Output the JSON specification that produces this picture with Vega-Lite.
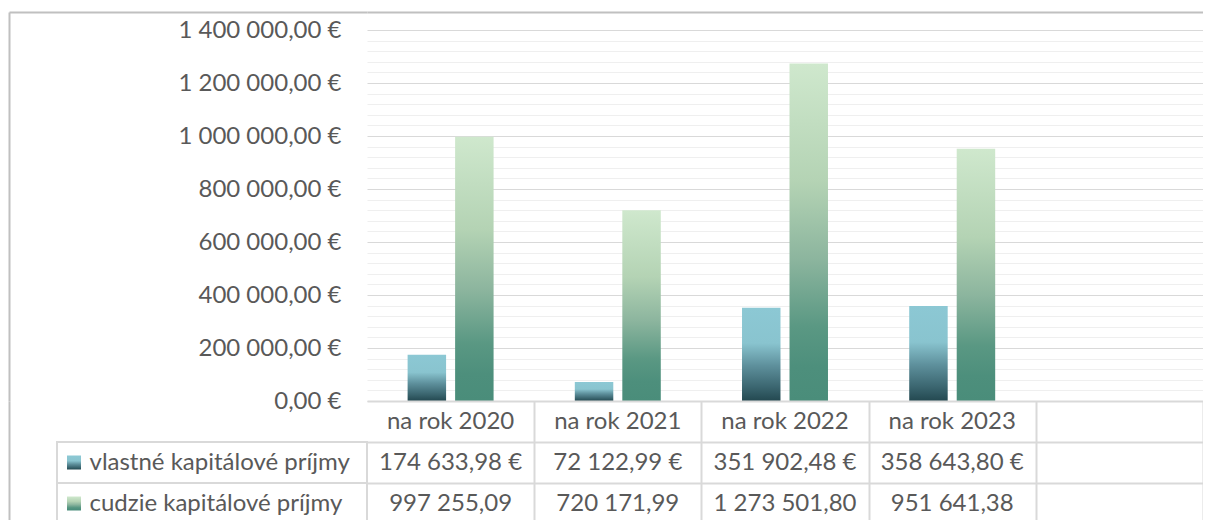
{
  "$schema": "https://vega.github.io/schema/vega-lite/v6.json",
  "padding": {"left": 9, "top": 12, "right": 0, "bottom": 0},
  "background": "white",
  "config": {
    "view": {"stroke": null},
    "font": "Lato",
    "locale": {"number": {"decimal": ",", "thousands": " ", "grouping": [3], "currency": ["", " €"]}},
    "axis": {"labelFont": "Lato", "labelColor": "#595959", "labelFontSize": 24, "title": null},
    "text": {"font": "Lato", "fontSize": 24, "color": "#595959"}
  },
  "datasets": {
    "prijmy": [
      {"rok": "na rok 2020", "serie": "vlastné kapitálové príjmy", "hodnota": 174633.98},
      {"rok": "na rok 2020", "serie": "cudzie kapitálové príjmy", "hodnota": 997255.09},
      {"rok": "na rok 2021", "serie": "vlastné kapitálové príjmy", "hodnota": 72122.99},
      {"rok": "na rok 2021", "serie": "cudzie kapitálové príjmy", "hodnota": 720171.99},
      {"rok": "na rok 2022", "serie": "vlastné kapitálové príjmy", "hodnota": 351902.48},
      {"rok": "na rok 2022", "serie": "cudzie kapitálové príjmy", "hodnota": 1273501.80},
      {"rok": "na rok 2023", "serie": "vlastné kapitálové príjmy", "hodnota": 358643.80},
      {"rok": "na rok 2023", "serie": "cudzie kapitálové príjmy", "hodnota": 951641.38}
    ]
  },
  "data": {"name": "prijmy"},
  "spacing": 0,
  "bounds": "flush",
  "columns": 2,
  "resolve": {"scale": {"x": "independent", "y": "independent"}},
  "concat": [
    {
      "width": 358,
      "height": 389,
      "mark": {"type": "point", "opacity": 0},
      "encoding": {
        "x": {"field": "hodnota", "type": "quantitative", "axis": {"orient": "top", "labels": false, "ticks": false, "grid": false, "domainColor": "#c0c0c0", "domainWidth": 2}},
        "y": {"field": "hodnota", "type": "quantitative", "axis": {"orient": "left", "labels": false, "ticks": false, "grid": false, "domainColor": "#c0c0c0", "domainWidth": 2}}
      }
    },
    {
      "width": 836,
      "height": 389,
      "resolve": {"axis": {"y": "independent"}},
      "encoding": {
        "x": {"field": "rok", "type": "nominal", "scale": {"domain": ["na rok 2020", "na rok 2021", "na rok 2022", "na rok 2023", ""], "paddingInner": 0, "paddingOuter": 0},
          "axis": {"orient": "top", "labels": false, "ticks": false, "grid": false, "domainColor": "#c0c0c0", "domainWidth": 2}},
        "xOffset": {"field": "serie", "type": "nominal", "scale": {"domain": ["vlastné kapitálové príjmy", "cudzie kapitálové príjmy"], "paddingInner": 0.19, "paddingOuter": 0.855}}
      },
      "layer": [
        {
          "transform": [{"filter": "datum.serie === 'vlastné kapitálové príjmy'"}],
          "mark": {"type": "bar", "color": {"gradient": "linear", "x1": 0, "y1": 0, "x2": 0, "y2": 1, "stops": [
            {"offset": 0, "color": "#8cc8d4"}, {"offset": 0.38, "color": "#89c4cf"}, {"offset": 0.62, "color": "#5e909c"}, {"offset": 0.85, "color": "#3b6670"}, {"offset": 1, "color": "#234850"}]}},
          "encoding": {
            "y": {"field": "hodnota", "type": "quantitative", "scale": {"domain": [0, 1467925], "nice": false},
              "axis": {"orient": "left", "values": [0, 200000, 400000, 600000, 800000, 1000000, 1200000, 1400000], "format": "$,.2f", "ticks": false, "tickSize": 0, "labelPadding": 26, "domain": false, "grid": true, "gridColor": "#d9d9d9", "gridWidth": 1}}
          }
        },
        {
          "transform": [{"filter": "datum.serie === 'cudzie kapitálové príjmy'"}],
          "mark": {"type": "bar", "color": {"gradient": "linear", "x1": 0, "y1": 0, "x2": 0, "y2": 1, "stops": [
            {"offset": 0, "color": "#cfe8cd"}, {"offset": 0.35, "color": "#b4d3b4"}, {"offset": 0.58, "color": "#8cb59e"}, {"offset": 0.78, "color": "#5a9883"}, {"offset": 0.9, "color": "#4d8f7c"}, {"offset": 1, "color": "#4a8d7a"}]}},
          "encoding": {
            "y": {"field": "hodnota", "type": "quantitative", "axis": null}
          }
        },
        {
          "mark": {"type": "point", "opacity": 0},
          "encoding": {
            "y": {"field": "hodnota", "type": "quantitative",
              "axis": {"orient": "right", "values": [40000, 80000, 120000, 160000, 240000, 280000, 320000, 360000, 440000, 480000, 520000, 560000, 640000, 680000, 720000, 760000, 840000, 880000, 920000, 960000, 1040000, 1080000, 1120000, 1160000, 1240000, 1280000, 1320000, 1360000],
                "labels": false, "ticks": false, "domain": false, "grid": true, "gridColor": "#efefef", "gridWidth": 1}}
          }
        }
      ]
    },
    {
      "width": 358,
      "height": 123,
      "resolve": {"scale": {"x": "independent", "y": "independent"}},
      "layer": [
        {
          "transform": [{"aggregate": [{"op": "count", "as": "n"}], "groupby": ["serie"]}],
          "mark": {"type": "rect", "fill": "white", "stroke": "#d9d9d9", "strokeWidth": 2},
          "encoding": {
            "x": {"datum": "popis", "type": "nominal", "scale": {"domain": ["popis"], "paddingInner": 0, "paddingOuter": 0.0774, "align": 1}, "axis": null},
            "y": {"field": "serie", "type": "nominal", "scale": {"domain": ["hlavička", "vlastné kapitálové príjmy", "cudzie kapitálové príjmy"], "paddingInner": 0, "paddingOuter": 0},
              "axis": {"orient": "left", "labels": false, "ticks": false, "grid": false, "domainColor": "#c0c0c0", "domainWidth": 2}}
          }
        },
        {
          "transform": [{"filter": "datum.serie === 'vlastné kapitálové príjmy'"}, {"aggregate": [{"op": "count", "as": "n"}], "groupby": ["serie"]}],
          "mark": {"type": "square", "size": 196, "opacity": 1, "color": {"gradient": "linear", "x1": 0, "y1": 0, "x2": 0, "y2": 1, "stops": [
            {"offset": 0, "color": "#8cc8d4"}, {"offset": 0.38, "color": "#89c4cf"}, {"offset": 0.62, "color": "#5e909c"}, {"offset": 0.85, "color": "#3b6670"}, {"offset": 1, "color": "#234850"}]}},
          "encoding": {
            "x": {"datum": "znacka", "type": "nominal", "scale": {"type": "point", "domain": ["znacka"], "align": 0.1816}, "axis": null},
            "y": {"field": "serie", "type": "nominal", "scale": {"domain": ["hlavička", "vlastné kapitálové príjmy", "cudzie kapitálové príjmy"], "paddingInner": 0, "paddingOuter": 0}, "axis": null}
          }
        },
        {
          "transform": [{"filter": "datum.serie === 'cudzie kapitálové príjmy'"}, {"aggregate": [{"op": "count", "as": "n"}], "groupby": ["serie"]}],
          "mark": {"type": "square", "size": 196, "opacity": 1, "color": {"gradient": "linear", "x1": 0, "y1": 0, "x2": 0, "y2": 1, "stops": [
            {"offset": 0, "color": "#cfe8cd"}, {"offset": 0.35, "color": "#b4d3b4"}, {"offset": 0.58, "color": "#8cb59e"}, {"offset": 0.78, "color": "#5a9883"}, {"offset": 0.9, "color": "#4d8f7c"}, {"offset": 1, "color": "#4a8d7a"}]}},
          "encoding": {
            "x": {"datum": "znacka", "type": "nominal", "scale": {"type": "point", "domain": ["znacka"], "align": 0.1816}, "axis": null},
            "y": {"field": "serie", "type": "nominal", "scale": {"domain": ["hlavička", "vlastné kapitálové príjmy", "cudzie kapitálové príjmy"], "paddingInner": 0, "paddingOuter": 0}, "axis": null}
          }
        }
      ]
    },
    {
      "width": 836,
      "height": 123,
      "encoding": {
        "x": {"field": "rok", "type": "nominal", "scale": {"domain": ["na rok 2020", "na rok 2021", "na rok 2022", "na rok 2023", ""], "paddingInner": 0, "paddingOuter": 0},
          "axis": {"orient": "bottom", "labels": false, "ticks": false, "domain": false, "grid": true, "tickBand": "extent", "gridColor": "#d9d9d9", "gridWidth": 2,
            "gridOpacity": {"condition": {"test": "datum.extra", "value": 0}, "value": 1}}}
      },
      "layer": [
        {
          "transform": [{"aggregate": [{"op": "count", "as": "n"}], "groupby": ["rok"]}],
          "mark": {"type": "text", "baseline": "middle"},
          "encoding": {
            "y": {"datum": "hlavička", "type": "nominal", "scale": {"domain": ["hlavička", "vlastné kapitálové príjmy", "cudzie kapitálové príjmy"], "paddingInner": 0, "paddingOuter": 0},
              "axis": {"orient": "left", "labelExpr": "datum.value === 'hlavička' ? '' : datum.value", "labelAlign": "left", "labelLimit": 0, "labelPadding": 278, "ticks": false, "tickSize": 0, "domain": false, "grid": true, "tickBand": "extent", "gridColor": "#d9d9d9", "gridWidth": 2}},
            "text": {"field": "rok", "type": "nominal"}
          }
        },
        {
          "transform": [{"filter": "datum.serie === 'vlastné kapitálové príjmy'"}],
          "mark": {"type": "text", "baseline": "middle"},
          "encoding": {
            "y": {"field": "serie", "type": "nominal"},
            "text": {"field": "hodnota", "type": "quantitative", "format": "$,.2f"}
          }
        },
        {
          "transform": [{"filter": "datum.serie === 'cudzie kapitálové príjmy'"}],
          "mark": {"type": "text", "baseline": "middle"},
          "encoding": {
            "y": {"field": "serie", "type": "nominal"},
            "text": {"field": "hodnota", "type": "quantitative", "format": ",.2f"}
          }
        }
      ]
    }
  ]
}
